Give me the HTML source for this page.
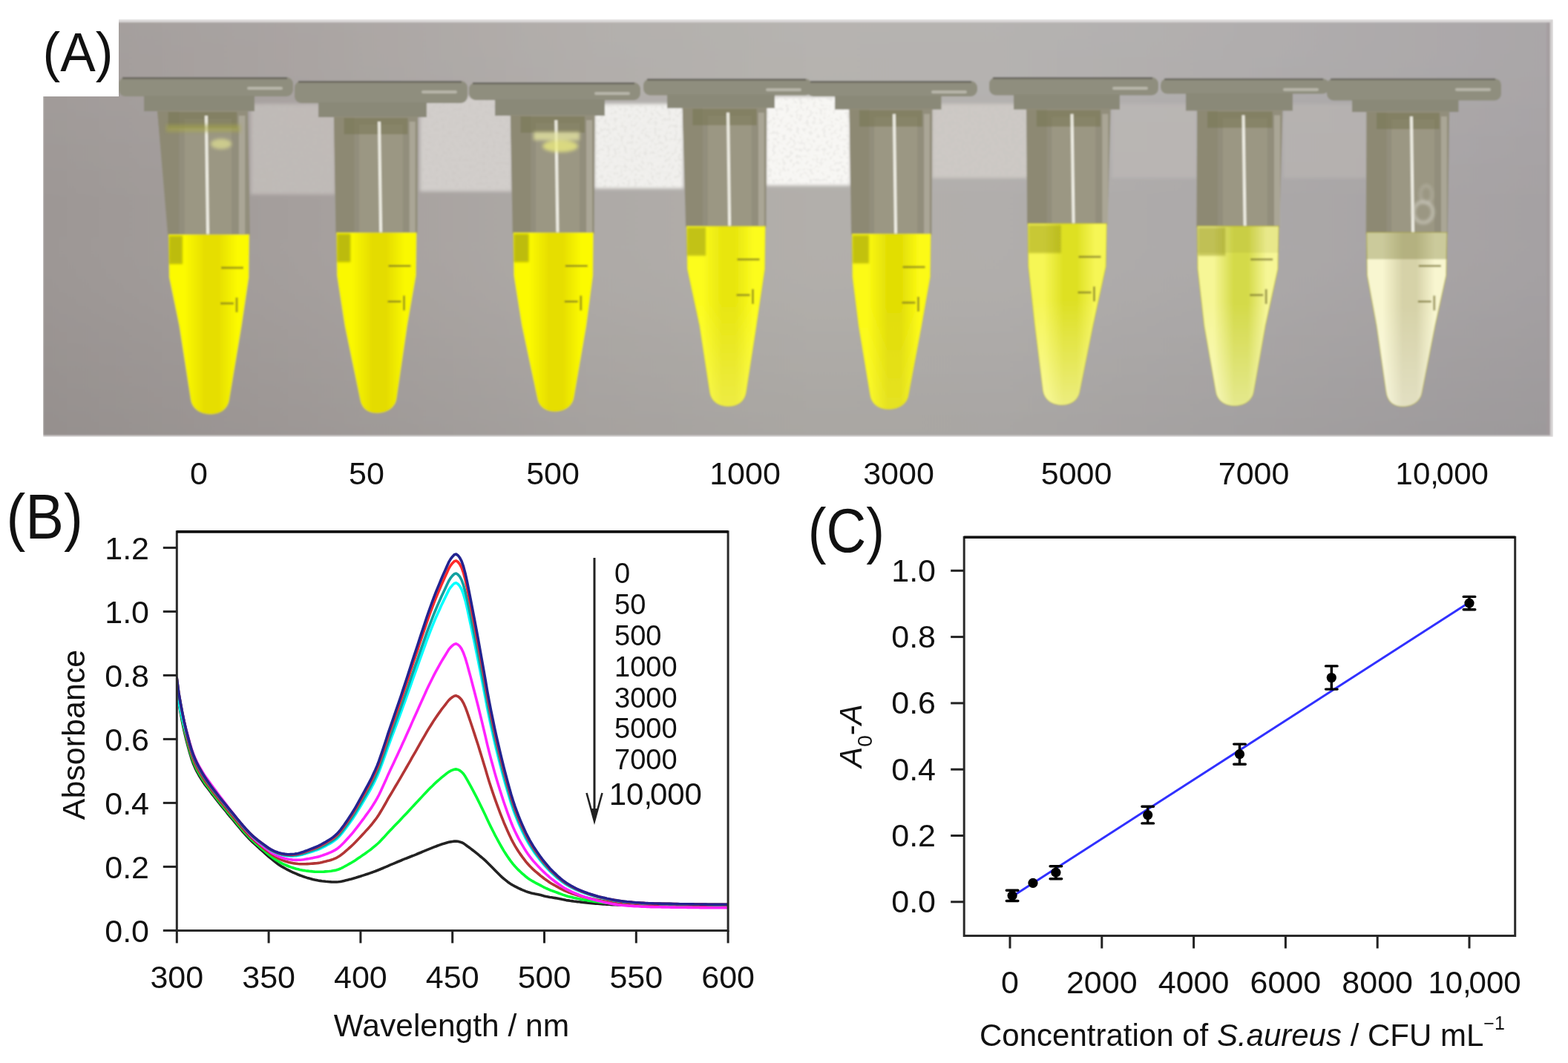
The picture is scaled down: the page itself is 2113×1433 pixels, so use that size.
<!DOCTYPE html><html><head><meta charset="utf-8"><title>Figure</title><style>html,body{margin:0;padding:0;background:#fff;}body{width:2113px;height:1433px;overflow:hidden;}svg{display:block}text{font-family:"Liberation Sans", Arial, Helvetica, sans-serif;fill:#111;}</style></head><body>
<svg width="2113" height="1433" viewBox="0 0 2113 1433">
<rect x="0" y="0" width="2113" height="1433" fill="#fff"/>
<defs><filter id="pblur" x="0" y="0" width="100%" height="100%"><feGaussianBlur stdDeviation="1.1"/></filter></defs>
<g filter="url(#pblur)">
<defs><linearGradient id="bgh" x1="0" y1="0" x2="1" y2="0"><stop offset="0" stop-color="rgb(157,151,149)"/><stop offset="0.168" stop-color="rgb(165,159,157)"/><stop offset="0.365" stop-color="rgb(174,170,167)"/><stop offset="0.513" stop-color="rgb(178,175,171)"/><stop offset="0.636" stop-color="rgb(177,174,172)"/><stop offset="0.784" stop-color="rgb(172,169,169)"/><stop offset="1" stop-color="rgb(165,161,163)"/></linearGradient><linearGradient id="bgv" x1="0" y1="0" x2="0" y2="1"><stop offset="0" stop-color="#fff" stop-opacity="0.06"/><stop offset="0.13" stop-color="#fff" stop-opacity="0.05"/><stop offset="0.45" stop-color="#fff" stop-opacity="0"/><stop offset="0.75" stop-color="#000" stop-opacity="0.02"/><stop offset="1" stop-color="#000" stop-opacity="0.05"/></linearGradient><filter id="blur1" x="-10%" y="-10%" width="120%" height="120%"><feGaussianBlur stdDeviation="1"/></filter><filter id="blur2" x="-10%" y="-10%" width="120%" height="120%"><feGaussianBlur stdDeviation="2"/></filter><filter id="blur3" x="-10%" y="-10%" width="120%" height="120%"><feGaussianBlur stdDeviation="3"/></filter><filter id="speck" x="0" y="0" width="100%" height="100%"><feTurbulence type="fractalNoise" baseFrequency="0.22" numOctaves="2" seed="7"/><feColorMatrix type="matrix" values="0 0 0 0 0.55  0 0 0 0 0.54  0 0 0 0 0.52  0 0 0 -5 2.45"/><feComposite in2="SourceGraphic" operator="in"/></filter></defs>
<rect x="58" y="30" width="2031" height="557" fill="url(#bgh)"/>
<rect x="58" y="30" width="2031" height="557" fill="url(#bgv)"/>
<rect x="58" y="26" width="2035" height="4" fill="#dcd9d9"/>
<rect x="2089" y="26" width="4" height="563" fill="#d6d3d3"/>
<rect x="58" y="587" width="2031" height="2" fill="#d6d3d3"/>
<rect x="2084" y="30" width="5" height="557" fill="#a29a9b" opacity="0.6"/>
<g filter="url(#blur2)">
<rect x="338" y="140" width="114" height="122" fill="#c2bdb9" opacity="0.9"/>
<rect x="566" y="130" width="124" height="128" fill="#d2cecb" opacity="1.0"/>
<rect x="801" y="140" width="120" height="114" fill="#f1f0ed" opacity="1.0"/>
<rect x="1032" y="130" width="114" height="120" fill="#f8f7f4" opacity="1.0"/>
<rect x="1256" y="140" width="129" height="100" fill="#cdc9c5" opacity="1.0"/>
<rect x="1498" y="140" width="115" height="100" fill="#bcb8b5" opacity="0.8"/>
<rect x="1729" y="140" width="113" height="100" fill="#b9b5b2" opacity="0.7"/>
</g>
<rect x="340" y="142" width="110" height="118" fill="#000" filter="url(#speck)" opacity="0.22"/>
<rect x="568" y="132" width="120" height="124" fill="#000" filter="url(#speck)" opacity="0.22"/>
<rect x="803" y="142" width="116" height="110" fill="#000" filter="url(#speck)" opacity="0.22"/>
<rect x="1034" y="132" width="110" height="116" fill="#000" filter="url(#speck)" opacity="0.22"/>
<rect x="1258" y="142" width="125" height="96" fill="#000" filter="url(#speck)" opacity="0.22"/>
<defs><linearGradient id="lq0" x1="0" y1="0" x2="1" y2="0"><stop offset="0" stop-color="rgb(252,250,0)"/><stop offset="0.2" stop-color="rgb(252,250,0)"/><stop offset="0.45" stop-color="rgb(230,222,0)"/><stop offset="0.62" stop-color="rgb(230,222,0)"/><stop offset="0.85" stop-color="rgb(252,250,0)"/><stop offset="1" stop-color="rgb(252,250,0)"/></linearGradient><linearGradient id="lq1" x1="0" y1="0" x2="1" y2="0"><stop offset="0" stop-color="rgb(250,248,0)"/><stop offset="0.2" stop-color="rgb(250,248,0)"/><stop offset="0.45" stop-color="rgb(228,220,0)"/><stop offset="0.62" stop-color="rgb(228,220,0)"/><stop offset="0.85" stop-color="rgb(250,248,0)"/><stop offset="1" stop-color="rgb(250,248,0)"/></linearGradient><linearGradient id="lq2" x1="0" y1="0" x2="1" y2="0"><stop offset="0" stop-color="rgb(252,250,0)"/><stop offset="0.2" stop-color="rgb(252,250,0)"/><stop offset="0.45" stop-color="rgb(230,222,0)"/><stop offset="0.62" stop-color="rgb(230,222,0)"/><stop offset="0.85" stop-color="rgb(252,250,0)"/><stop offset="1" stop-color="rgb(252,250,0)"/></linearGradient><linearGradient id="lq3" x1="0" y1="0" x2="1" y2="0"><stop offset="0" stop-color="rgb(252,252,30)"/><stop offset="0.2" stop-color="rgb(252,252,30)"/><stop offset="0.45" stop-color="rgb(232,230,15)"/><stop offset="0.62" stop-color="rgb(232,230,15)"/><stop offset="0.85" stop-color="rgb(252,252,30)"/><stop offset="1" stop-color="rgb(252,252,30)"/></linearGradient><linearGradient id="lq4" x1="0" y1="0" x2="1" y2="0"><stop offset="0" stop-color="rgb(252,250,20)"/><stop offset="0.2" stop-color="rgb(252,250,20)"/><stop offset="0.45" stop-color="rgb(226,222,5)"/><stop offset="0.62" stop-color="rgb(226,222,5)"/><stop offset="0.85" stop-color="rgb(252,250,20)"/><stop offset="1" stop-color="rgb(252,250,20)"/></linearGradient><linearGradient id="lq5" x1="0" y1="0" x2="1" y2="0"><stop offset="0" stop-color="rgb(246,246,85)"/><stop offset="0.2" stop-color="rgb(246,246,85)"/><stop offset="0.45" stop-color="rgb(222,224,35)"/><stop offset="0.62" stop-color="rgb(222,224,35)"/><stop offset="0.85" stop-color="rgb(246,246,85)"/><stop offset="1" stop-color="rgb(246,246,85)"/></linearGradient><linearGradient id="lq6" x1="0" y1="0" x2="1" y2="0"><stop offset="0" stop-color="rgb(246,246,150)"/><stop offset="0.2" stop-color="rgb(246,246,150)"/><stop offset="0.45" stop-color="rgb(212,218,72)"/><stop offset="0.62" stop-color="rgb(212,218,72)"/><stop offset="0.85" stop-color="rgb(246,246,150)"/><stop offset="1" stop-color="rgb(246,246,150)"/></linearGradient><linearGradient id="lq7" x1="0" y1="0" x2="1" y2="0"><stop offset="0" stop-color="rgb(248,246,208)"/><stop offset="0.2" stop-color="rgb(248,246,208)"/><stop offset="0.45" stop-color="rgb(214,210,168)"/><stop offset="0.62" stop-color="rgb(214,210,168)"/><stop offset="0.85" stop-color="rgb(248,246,208)"/><stop offset="1" stop-color="rgb(248,246,208)"/></linearGradient><linearGradient id="lv0" gradientUnits="userSpaceOnUse" x1="0" y1="316" x2="0" y2="558.6"><stop offset="0" stop-color="#fff" stop-opacity="0"/><stop offset="0.42" stop-color="#fff" stop-opacity="0"/><stop offset="1" stop-color="#fff" stop-opacity="0"/></linearGradient><linearGradient id="lv1" gradientUnits="userSpaceOnUse" x1="0" y1="313.4" x2="0" y2="557"><stop offset="0" stop-color="#fff" stop-opacity="0"/><stop offset="0.42" stop-color="#fff" stop-opacity="0"/><stop offset="1" stop-color="#fff" stop-opacity="0"/></linearGradient><linearGradient id="lv2" gradientUnits="userSpaceOnUse" x1="0" y1="313.4" x2="0" y2="555"><stop offset="0" stop-color="#fff" stop-opacity="0"/><stop offset="0.42" stop-color="#fff" stop-opacity="0"/><stop offset="1" stop-color="#fff" stop-opacity="0"/></linearGradient><linearGradient id="lv3" gradientUnits="userSpaceOnUse" x1="0" y1="304.7" x2="0" y2="548"><stop offset="0" stop-color="#fff" stop-opacity="0"/><stop offset="0.42" stop-color="#fff" stop-opacity="0"/><stop offset="1" stop-color="#fff" stop-opacity="0.22"/></linearGradient><linearGradient id="lv4" gradientUnits="userSpaceOnUse" x1="0" y1="315.1" x2="0" y2="552"><stop offset="0" stop-color="#fff" stop-opacity="0"/><stop offset="0.42" stop-color="#fff" stop-opacity="0"/><stop offset="1" stop-color="#fff" stop-opacity="0.12"/></linearGradient><linearGradient id="lv5" gradientUnits="userSpaceOnUse" x1="0" y1="301.2" x2="0" y2="546"><stop offset="0" stop-color="#fff" stop-opacity="0"/><stop offset="0.42" stop-color="#fff" stop-opacity="0"/><stop offset="1" stop-color="#fff" stop-opacity="0.42"/></linearGradient><linearGradient id="lv6" gradientUnits="userSpaceOnUse" x1="0" y1="304.7" x2="0" y2="547"><stop offset="0" stop-color="#fff" stop-opacity="0"/><stop offset="0.42" stop-color="#fff" stop-opacity="0"/><stop offset="1" stop-color="#fff" stop-opacity="0.38"/></linearGradient><linearGradient id="lv7" gradientUnits="userSpaceOnUse" x1="0" y1="313.4" x2="0" y2="548"><stop offset="0" stop-color="#fff" stop-opacity="0"/><stop offset="0.42" stop-color="#fff" stop-opacity="0"/><stop offset="1" stop-color="#fff" stop-opacity="0.3"/></linearGradient></defs>
<rect x="160" y="104" width="235" height="26" rx="9" fill="#8f8e7e"/>
<rect x="333" y="117" width="48" height="4" rx="2" fill="#c8c6bc" opacity="0.7"/>
<path d="M165,105.2 H387" stroke="#5e5d55" stroke-width="2.4" opacity="0.85"/>
<rect x="194" y="129" width="149" height="21" fill="#8a8978"/>
<path d="M212,149 L334,149 L337,318 L226,318 Z" fill="#928e7b"/>
<path d="M212,150 L241.3,150 L241.3,317 L227.0,317 Z" fill="#8c8872" opacity="0.8"/>
<rect x="248.6" y="160" width="63.4" height="156.0" fill="#9c9884" opacity="0.9"/>
<rect x="321.8" y="156" width="8.5" height="160.0" fill="#b0ac9e" opacity="0.8"/>
<rect x="226.6" y="151" width="92.7" height="22" fill="#767450" opacity="0.55"/>
<path d="M277.9,156 L280.9,376" stroke="#fbfaf2" stroke-width="4" opacity="0.85"/>
<path d="M227.0,316.0 L336.0,316.0 L335.4,374.0 L325.7,439 L309.1,538.6 C307.1,552.6 295.7,558.6 283.7,558.6 C271.7,558.6 258.9,552.6 256.9,538.6 L241.4,439 L227.9,374.0 Z" fill="url(#lq0)" stroke="#b4ae2c" stroke-width="1.4" stroke-opacity="0.55"/>
<rect x="228.0" y="318.0" width="18" height="38" fill="#8a8a10" opacity="0.55" filter="url(#blur1)"/>
<path d="M298.0,361.0 h30 M297.0,409.0 h18 m4,-8 v20" stroke="#6a6420" stroke-width="3" opacity="0.6"/>
<rect x="397" y="109" width="233" height="30" rx="9" fill="#8f8e7e"/>
<rect x="568" y="122" width="48" height="4" rx="2" fill="#c8c6bc" opacity="0.7"/>
<path d="M402,110.2 H622" stroke="#5e5d55" stroke-width="2.4" opacity="0.85"/>
<rect x="429" y="138" width="146" height="20" fill="#8a8978"/>
<path d="M450,157 L563,157 L562.5,315.4 L452.3,315.4 Z" fill="#928e7b"/>
<path d="M450,158 L477.1,158 L477.1,314.4 L453.3,314.4 Z" fill="#8c8872" opacity="0.8"/>
<rect x="483.9" y="168" width="58.8" height="145.4" fill="#9c9884" opacity="0.9"/>
<rect x="551.7" y="164" width="7.9" height="149.4" fill="#b0ac9e" opacity="0.8"/>
<rect x="463.6" y="159" width="85.9" height="22" fill="#767450" opacity="0.55"/>
<path d="M511.0,164 L514.0,373.4" stroke="#fbfaf2" stroke-width="4" opacity="0.85"/>
<path d="M453.3,313.4 L561.5,313.4 L560.7,371.4 L548.9,439 L534.6,537.0 C532.6,551.0 520.0,557.0 508.0,557.0 C496.0,557.0 486.9,551.0 484.9,537.0 L464.5,439 L454.0,371.4 Z" fill="url(#lq1)" stroke="#b4ae2c" stroke-width="1.4" stroke-opacity="0.55"/>
<rect x="454.3" y="315.4" width="18" height="38" fill="#8a8a10" opacity="0.55" filter="url(#blur1)"/>
<path d="M523.5,358.4 h30 M522.5,406.4 h18 m4,-8 v20" stroke="#6a6420" stroke-width="3" opacity="0.6"/>
<rect x="632" y="111" width="231" height="24" rx="9" fill="#8f8e7e"/>
<rect x="801" y="124" width="48" height="4" rx="2" fill="#c8c6bc" opacity="0.7"/>
<path d="M637,112.2 H855" stroke="#5e5d55" stroke-width="2.4" opacity="0.85"/>
<rect x="667" y="134" width="148" height="22" fill="#8a8978"/>
<path d="M688,155 L801.5,155 L800.8,315.4 L690.6,315.4 Z" fill="#928e7b"/>
<path d="M688,156 L715.2,156 L715.2,314.4 L691.6,314.4 Z" fill="#8c8872" opacity="0.8"/>
<rect x="722.0" y="166" width="59.0" height="147.4" fill="#9c9884" opacity="0.9"/>
<rect x="790.1" y="162" width="7.9" height="151.4" fill="#b0ac9e" opacity="0.8"/>
<rect x="701.6" y="157" width="86.3" height="22" fill="#767450" opacity="0.55"/>
<path d="M749.3,162 L752.3,373.4" stroke="#fbfaf2" stroke-width="4" opacity="0.85"/>
<path d="M691.6,313.4 L799.8,313.4 L799.2,371.4 L790.3,439 L773.7,535.0 C771.7,549.0 759.6,555.0 747.6,555.0 C735.6,555.0 725.6,549.0 723.6,535.0 L703.1,439 L692.3,371.4 Z" fill="url(#lq2)" stroke="#b4ae2c" stroke-width="1.4" stroke-opacity="0.55"/>
<rect x="692.6" y="315.4" width="20" height="38" fill="#8a8a10" opacity="0.55" filter="url(#blur1)"/>
<path d="M761.8,358.4 h30 M760.8,406.4 h18 m4,-8 v20" stroke="#6a6420" stroke-width="3" opacity="0.6"/>
<rect x="867" y="106" width="227" height="22.400000000000006" rx="9" fill="#8f8e7e"/>
<rect x="1032" y="119" width="48" height="4" rx="2" fill="#c8c6bc" opacity="0.7"/>
<path d="M872,107.2 H1086" stroke="#5e5d55" stroke-width="2.4" opacity="0.85"/>
<rect x="899" y="127.4" width="145" height="18.400000000000006" fill="#8a8978"/>
<path d="M919.8,144.8 L1033.2,144.8 L1032.5,306.7 L924,306.7 Z" fill="#928e7b"/>
<path d="M919.8,145.8 L947.0,145.8 L947.0,305.7 L925.0,305.7 Z" fill="#8c8872" opacity="0.8"/>
<rect x="953.8" y="155.8" width="59.0" height="148.9" fill="#9c9884" opacity="0.9"/>
<rect x="1021.9" y="151.8" width="7.9" height="152.9" fill="#b0ac9e" opacity="0.8"/>
<rect x="933.4" y="146.8" width="86.2" height="22" fill="#767450" opacity="0.55"/>
<path d="M981.0,151.8 L984.0,364.7" stroke="#fbfaf2" stroke-width="4" opacity="0.85"/>
<path d="M925.0,304.7 L1031.5,304.7 L1030.8,362.7 L1019.5,439 L1005.7,528.0 C1003.7,542.0 993.5,548.0 981.5,548.0 C969.5,548.0 958.2,542.0 956.2,528.0 L942.5,439 L926.0,362.7 Z" fill="url(#lq3)" stroke="#b4ae2c" stroke-width="1.4" stroke-opacity="0.55"/>
<path d="M925.0,304.7 L1031.5,304.7 L1030.8,362.7 L1019.5,439 L1005.7,528.0 C1003.7,542.0 993.5,548.0 981.5,548.0 C969.5,548.0 958.2,542.0 956.2,528.0 L942.5,439 L926.0,362.7 Z" fill="url(#lv3)"/>
<rect x="926.0" y="306.7" width="25" height="38" fill="#8a8a10" opacity="0.5" filter="url(#blur1)"/>
<path d="M993.5,349.7 h30 M992.5,397.7 h18 m4,-8 v20" stroke="#6a6420" stroke-width="3" opacity="0.6"/>
<rect x="1087" y="109" width="230" height="21" rx="9" fill="#8f8e7e"/>
<rect x="1255" y="122" width="48" height="4" rx="2" fill="#c8c6bc" opacity="0.7"/>
<path d="M1092,110.2 H1309" stroke="#5e5d55" stroke-width="2.4" opacity="0.85"/>
<rect x="1125" y="129" width="143.5" height="18.599999999999994" fill="#8a8978"/>
<path d="M1144.6,146.6 L1256.3,146.6 L1255.5,317.1 L1147,317.1 Z" fill="#928e7b"/>
<path d="M1144.6,147.6 L1171.4,147.6 L1171.4,316.1 L1148.0,316.1 Z" fill="#8c8872" opacity="0.8"/>
<rect x="1178.1" y="157.6" width="58.1" height="157.5" fill="#9c9884" opacity="0.9"/>
<rect x="1245.1" y="153.6" width="7.8" height="161.5" fill="#b0ac9e" opacity="0.8"/>
<rect x="1158.0" y="148.6" width="84.9" height="22" fill="#767450" opacity="0.55"/>
<path d="M1204.9,153.6 L1207.9,375.1" stroke="#fbfaf2" stroke-width="4" opacity="0.85"/>
<path d="M1148.0,315.1 L1254.5,315.1 L1253.8,373.1 L1242.1,439 L1224.6,532.0 C1222.6,546.0 1209.6,552.0 1197.6,552.0 C1185.6,552.0 1174.3,546.0 1172.3,532.0 L1156.8,439 L1148.5,373.1 Z" fill="url(#lq4)" stroke="#b4ae2c" stroke-width="1.4" stroke-opacity="0.55"/>
<path d="M1148.0,315.1 L1254.5,315.1 L1253.8,373.1 L1242.1,439 L1224.6,532.0 C1222.6,546.0 1209.6,552.0 1197.6,552.0 C1185.6,552.0 1174.3,546.0 1172.3,532.0 L1156.8,439 L1148.5,373.1 Z" fill="url(#lv4)"/>
<rect x="1149.0" y="317.1" width="22" height="38" fill="#8a8a10" opacity="0.5" filter="url(#blur1)"/>
<path d="M1216.5,360.1 h30 M1215.5,408.1 h18 m4,-8 v20" stroke="#6a6420" stroke-width="3" opacity="0.6"/>
<rect x="1333" y="104" width="228" height="24.400000000000006" rx="9" fill="#8f8e7e"/>
<rect x="1499" y="117" width="48" height="4" rx="2" fill="#c8c6bc" opacity="0.7"/>
<path d="M1338,105.2 H1553" stroke="#5e5d55" stroke-width="2.4" opacity="0.85"/>
<rect x="1366" y="127.4" width="143" height="20.19999999999999" fill="#8a8978"/>
<path d="M1383.3,146.6 L1496.7,146.6 L1492.5,303.2 L1384,303.2 Z" fill="#928e7b"/>
<path d="M1383.3,147.6 L1410.5,147.6 L1410.5,302.2 L1385.0,302.2 Z" fill="#8c8872" opacity="0.8"/>
<rect x="1417.3" y="157.6" width="59.0" height="143.6" fill="#9c9884" opacity="0.9"/>
<rect x="1485.4" y="153.6" width="7.9" height="147.6" fill="#b0ac9e" opacity="0.8"/>
<rect x="1396.9" y="148.6" width="86.2" height="22" fill="#767450" opacity="0.55"/>
<path d="M1444.5,153.6 L1447.5,361.2" stroke="#fbfaf2" stroke-width="4" opacity="0.85"/>
<path d="M1385.0,301.2 L1491.5,301.2 L1490.4,359.2 L1473.0,439 L1455.3,526.0 C1453.3,540.0 1443.0,546.0 1431.0,546.0 C1419.0,546.0 1407.4,540.0 1405.4,526.0 L1394.5,439 L1385.6,359.2 Z" fill="url(#lq5)" stroke="#b4ae2c" stroke-width="1.4" stroke-opacity="0.55"/>
<path d="M1385.0,301.2 L1491.5,301.2 L1490.4,359.2 L1473.0,439 L1455.3,526.0 C1453.3,540.0 1443.0,546.0 1431.0,546.0 C1419.0,546.0 1407.4,540.0 1405.4,526.0 L1394.5,439 L1385.6,359.2 Z" fill="url(#lv5)"/>
<rect x="1386.0" y="303.2" width="44" height="38" fill="#8a8a10" opacity="0.42" filter="url(#blur1)"/>
<path d="M1453.5,346.2 h30 M1452.5,394.2 h18 m4,-8 v20" stroke="#6a6420" stroke-width="3" opacity="0.6"/>
<rect x="1564" y="105.7" width="227" height="20.89999999999999" rx="9" fill="#8f8e7e"/>
<rect x="1729" y="118.7" width="48" height="4" rx="2" fill="#c8c6bc" opacity="0.7"/>
<path d="M1569,106.9 H1783" stroke="#5e5d55" stroke-width="2.4" opacity="0.85"/>
<rect x="1598" y="125.6" width="144" height="23.700000000000017" fill="#8a8978"/>
<path d="M1613.3,148.3 L1728.5,148.3 L1724.2,306.7 L1612.3,306.7 Z" fill="#928e7b"/>
<path d="M1613.3,149.3 L1640.9,149.3 L1640.9,305.7 L1613.3,305.7 Z" fill="#8c8872" opacity="0.8"/>
<rect x="1647.9" y="159.3" width="59.9" height="145.4" fill="#9c9884" opacity="0.9"/>
<rect x="1717.0" y="155.3" width="8.1" height="149.4" fill="#b0ac9e" opacity="0.8"/>
<rect x="1627.1" y="150.3" width="87.6" height="22" fill="#767450" opacity="0.55"/>
<path d="M1675.5,155.3 L1678.5,364.7" stroke="#fbfaf2" stroke-width="4" opacity="0.85"/>
<path d="M1613.3,304.7 L1723.2,304.7 L1722.1,362.7 L1705.3,439 L1689.6,527.0 C1687.6,541.0 1675.5,547.0 1663.5,547.0 C1651.5,547.0 1640.3,541.0 1638.3,527.0 L1622.7,439 L1613.9,362.7 Z" fill="url(#lq6)" stroke="#b4ae2c" stroke-width="1.4" stroke-opacity="0.55"/>
<path d="M1613.3,304.7 L1723.2,304.7 L1722.1,362.7 L1705.3,439 L1689.6,527.0 C1687.6,541.0 1675.5,547.0 1663.5,547.0 C1651.5,547.0 1640.3,541.0 1638.3,527.0 L1622.7,439 L1613.9,362.7 Z" fill="url(#lv6)"/>
<rect x="1613.3" y="304.7" width="109.9" height="36" fill="#6e6e2a" opacity="0.1"/>
<rect x="1614.3" y="306.7" width="37" height="38" fill="#8a8a10" opacity="0.42" filter="url(#blur1)"/>
<path d="M1685.2,349.7 h30 M1684.2,397.7 h18 m4,-8 v20" stroke="#6a6420" stroke-width="3" opacity="0.6"/>
<rect x="1788" y="105.7" width="235" height="29.700000000000003" rx="9" fill="#8f8e7e"/>
<rect x="1961" y="118.7" width="48" height="4" rx="2" fill="#c8c6bc" opacity="0.7"/>
<path d="M1793,106.9 H2015" stroke="#5e5d55" stroke-width="2.4" opacity="0.85"/>
<rect x="1822" y="134.4" width="143.5" height="16.599999999999994" fill="#8a8978"/>
<path d="M1841.6,150 L1953.2,150 L1950.8,315.4 L1840.6,315.4 Z" fill="#928e7b"/>
<path d="M1841.6,151 L1868.4,151 L1868.4,314.4 L1841.6,314.4 Z" fill="#8c8872" opacity="0.8"/>
<rect x="1875.1" y="161" width="58.0" height="152.4" fill="#9c9884" opacity="0.9"/>
<rect x="1942.0" y="157" width="7.8" height="156.4" fill="#b0ac9e" opacity="0.8"/>
<rect x="1855.0" y="152" width="84.8" height="22" fill="#767450" opacity="0.55"/>
<path d="M1901.9,157 L1904.9,373.4" stroke="#fbfaf2" stroke-width="4" opacity="0.85"/>
<path d="M1841.6,313.4 L1949.8,313.4 L1948.8,371.4 L1933.9,439 L1916.3,528.0 C1914.3,542.0 1902.3,548.0 1890.3,548.0 C1878.3,548.0 1869.9,542.0 1867.9,528.0 L1855.0,439 L1842.4,371.4 Z" fill="url(#lq7)" stroke="#b4ae2c" stroke-width="1.4" stroke-opacity="0.55"/>
<path d="M1841.6,313.4 L1949.8,313.4 L1948.8,371.4 L1933.9,439 L1916.3,528.0 C1914.3,542.0 1902.3,548.0 1890.3,548.0 C1878.3,548.0 1869.9,542.0 1867.9,528.0 L1855.0,439 L1842.4,371.4 Z" fill="url(#lv7)"/>
<rect x="1841.6" y="313.4" width="108.2" height="36" fill="#6e6e2a" opacity="0.32"/>
<path d="M1911.8,358.4 h30 M1910.8,406.4 h18 m4,-8 v20" stroke="#6a6420" stroke-width="3" opacity="0.6"/>
<g filter="url(#blur2)">
<rect x="224" y="168" width="100" height="10" fill="#a8a848" opacity="0.55"/>
<ellipse cx="298" cy="194" rx="14" ry="7" fill="#d8d890" opacity="0.8"/>
<rect x="719" y="178" width="62" height="11" fill="#e6e6a0" opacity="0.75"/>
<ellipse cx="755" cy="197" rx="24" ry="8" fill="#eaea80" opacity="0.8"/>
<ellipse cx="1918" cy="286" rx="13" ry="14" fill="none" stroke="#e0ded6" stroke-width="3" opacity="0.8"/>
<ellipse cx="1922" cy="262" rx="8" ry="12" fill="none" stroke="#d6d4cc" stroke-width="2" opacity="0.6"/>
</g>
</g>
<rect x="0" y="0" width="160" height="130" fill="#fff"/>
<rect x="0" y="0" width="2113" height="26" fill="#fff"/>
<text transform="translate(57.5,96) scale(0.95,1)" font-size="75" fill="#000">(A)</text>
<text x="268" y="652.5" font-size="43" text-anchor="middle" fill="#222">0</text>
<text x="494" y="652.5" font-size="43" text-anchor="middle" fill="#222">50</text>
<text x="745" y="652.5" font-size="43" text-anchor="middle" fill="#222">500</text>
<text x="1004" y="652.5" font-size="43" text-anchor="middle" fill="#222">1000</text>
<text x="1211" y="652.5" font-size="43" text-anchor="middle" fill="#222">3000</text>
<text x="1450.6" y="652.5" font-size="43" text-anchor="middle" fill="#222">5000</text>
<text x="1689.6" y="652.5" font-size="43" text-anchor="middle" fill="#222">7000</text>
<text x="1880.6" y="652.5" font-size="42" fill="#222">10<tspan>,</tspan><tspan dx="-3.2">000</tspan></text>
<text transform="translate(8.5,726) scale(0.913,1)" font-size="85" fill="#000">(B)</text>
<clipPath id="cb"><rect x="238.3" y="716.7" width="742.8" height="537.7"/></clipPath>
<g clip-path="url(#cb)" fill="none" stroke-width="3.6" stroke-linejoin="round" stroke-linecap="round">
<polyline points="238.3,927.6 240.8,947.0 243.3,960.9 245.7,973.6 248.2,985.7 250.7,996.3 253.2,1005.9 255.6,1014.6 258.1,1022.8 260.6,1029.8 263.1,1035.6 265.5,1040.5 268.0,1045.0 270.5,1049.1 273.0,1053.0 275.4,1056.6 277.9,1060.0 280.4,1063.2 282.9,1066.5 285.3,1069.8 287.8,1073.0 290.3,1076.2 292.8,1079.4 295.2,1082.5 297.7,1085.6 300.2,1088.7 302.7,1091.7 305.2,1094.7 307.6,1097.8 310.1,1100.7 312.6,1103.7 315.1,1106.7 317.5,1109.7 320.0,1112.7 322.5,1115.6 325.0,1118.6 327.4,1121.5 329.9,1124.3 332.4,1127.1 334.9,1129.7 337.3,1132.2 339.8,1134.6 342.3,1137.0 344.8,1139.3 347.2,1141.5 349.7,1143.8 352.2,1146.0 354.7,1148.2 357.1,1150.4 359.6,1152.6 362.1,1154.8 364.6,1156.9 367.1,1158.9 369.5,1160.9 372.0,1162.8 374.5,1164.7 377.0,1166.4 379.4,1168.0 381.9,1169.4 384.4,1170.8 386.9,1172.2 389.3,1173.4 391.8,1174.7 394.3,1175.8 396.8,1176.9 399.2,1177.9 401.7,1179.0 404.2,1180.0 406.7,1180.9 409.1,1181.8 411.6,1182.6 414.1,1183.4 416.6,1184.1 419.0,1184.7 421.5,1185.4 424.0,1186.0 426.5,1186.5 429.0,1187.0 431.4,1187.4 433.9,1187.8 436.4,1188.0 438.9,1188.3 441.3,1188.5 443.8,1188.7 446.3,1188.9 448.8,1189.0 451.2,1189.0 453.7,1189.0 456.2,1188.8 458.7,1188.5 461.1,1188.0 463.6,1187.4 466.1,1186.8 468.6,1186.2 471.0,1185.6 473.5,1185.0 476.0,1184.3 478.5,1183.6 480.9,1182.8 483.4,1182.0 485.9,1181.2 488.4,1180.4 490.9,1179.6 493.3,1178.8 495.8,1178.0 498.3,1177.1 500.8,1176.3 503.2,1175.4 505.7,1174.5 508.2,1173.5 510.7,1172.5 513.1,1171.5 515.6,1170.5 518.1,1169.4 520.6,1168.4 523.0,1167.3 525.5,1166.2 528.0,1165.2 530.5,1164.2 532.9,1163.1 535.4,1162.0 537.9,1161.0 540.4,1160.0 542.8,1158.9 545.3,1157.9 547.8,1157.0 550.3,1156.0 552.8,1155.0 555.2,1154.0 557.7,1153.1 560.2,1152.1 562.7,1151.0 565.1,1150.0 567.6,1149.0 570.1,1147.9 572.6,1146.9 575.0,1145.9 577.5,1144.9 580.0,1143.9 582.5,1142.9 584.9,1141.9 587.4,1141.0 589.9,1140.0 592.4,1139.1 594.8,1138.2 597.3,1137.4 599.8,1136.7 602.3,1136.0 604.7,1135.3 607.2,1134.9 609.7,1134.5 612.2,1134.1 614.7,1134.0 617.1,1134.3 619.6,1134.9 622.1,1135.7 624.6,1136.9 627.0,1138.6 629.5,1140.5 632.0,1142.3 634.5,1144.1 636.9,1146.0 639.4,1147.9 641.9,1149.9 644.4,1151.9 646.8,1154.0 649.3,1156.0 651.8,1158.2 654.3,1160.4 656.7,1162.7 659.2,1165.2 661.7,1167.7 664.2,1170.2 666.6,1172.7 669.1,1175.2 671.6,1177.7 674.1,1180.2 676.6,1182.6 679.0,1184.7 681.5,1186.7 684.0,1188.7 686.5,1190.4 688.9,1192.1 691.4,1193.5 693.9,1194.9 696.4,1196.2 698.8,1197.4 701.3,1198.5 703.8,1199.6 706.3,1200.6 708.7,1201.6 711.2,1202.5 713.7,1203.2 716.2,1203.9 718.6,1204.4 721.1,1205.0 723.6,1205.5 726.1,1206.0 728.5,1206.6 731.0,1207.2 733.5,1207.9 736.0,1208.5 738.5,1209.0 740.9,1209.5 743.4,1209.8 745.9,1210.2 748.4,1210.6 750.8,1211.0 753.3,1211.5 755.8,1212.0 758.3,1212.6 760.7,1213.1 763.2,1213.6 765.7,1213.9 768.2,1214.3 770.6,1214.6 773.1,1215.0 775.6,1215.3 778.1,1215.6 780.5,1215.8 783.0,1216.1 785.5,1216.4 788.0,1216.6 790.4,1216.9 792.9,1217.2 795.4,1217.4 797.9,1217.7 800.4,1217.9 802.8,1218.1 805.3,1218.3 807.8,1218.5 810.3,1218.7 812.7,1218.9 815.2,1219.0 817.7,1219.2 820.2,1219.3 822.6,1219.5 825.1,1219.6 827.6,1219.7 830.1,1219.8 832.5,1219.9 835.0,1220.0 837.5,1220.1 840.0,1220.1 842.4,1220.2 844.9,1220.2 847.4,1220.3 849.9,1220.3 852.3,1220.4 854.8,1220.4 857.3,1220.4 859.8,1220.5 862.3,1220.5 864.7,1220.5 867.2,1220.5 869.7,1220.6 872.2,1220.6 874.6,1220.6 877.1,1220.6 879.6,1220.7 882.1,1220.7 884.5,1220.7 887.0,1220.7 889.5,1220.7 892.0,1220.8 894.4,1220.8 896.9,1220.8 899.4,1220.8 901.9,1220.8 904.3,1220.8 906.8,1220.9 909.3,1220.9 911.8,1220.9 914.2,1220.9 916.7,1220.9 919.2,1220.9 921.7,1221.0 924.2,1221.0 926.6,1221.0 929.1,1221.0 931.6,1221.0 934.1,1221.0 936.5,1221.1 939.0,1221.1 941.5,1221.1 944.0,1221.1 946.4,1221.1 948.9,1221.1 951.4,1221.1 953.9,1221.2 956.3,1221.2 958.8,1221.2 961.3,1221.2 963.8,1221.2 966.2,1221.2 968.7,1221.2 971.2,1221.2 973.7,1221.3 976.1,1221.3 978.6,1221.3 981.1,1221.3" stroke="#222222"/>
<polyline points="238.3,924.2 240.8,943.6 243.3,957.6 245.7,970.3 248.2,982.4 250.7,993.1 253.2,1002.7 255.6,1011.5 258.1,1019.7 260.6,1026.9 263.1,1032.6 265.5,1037.7 268.0,1042.2 270.5,1046.4 273.0,1050.4 275.4,1054.1 277.9,1057.6 280.4,1061.0 282.9,1064.3 285.3,1067.6 287.8,1070.9 290.3,1074.1 292.8,1077.3 295.2,1080.4 297.7,1083.5 300.2,1086.5 302.7,1089.6 305.2,1092.6 307.6,1095.6 310.1,1098.6 312.6,1101.6 315.1,1104.5 317.5,1107.5 320.0,1110.5 322.5,1113.5 325.0,1116.5 327.4,1119.4 329.9,1122.2 332.4,1124.9 334.9,1127.6 337.3,1130.1 339.8,1132.5 342.3,1134.8 344.8,1137.1 347.2,1139.2 349.7,1141.4 352.2,1143.5 354.7,1145.6 357.1,1147.7 359.6,1149.8 362.1,1151.9 364.6,1153.9 367.1,1155.7 369.5,1157.5 372.0,1159.2 374.5,1160.8 377.0,1162.3 379.4,1163.6 381.9,1164.8 384.4,1165.9 386.9,1167.0 389.3,1168.0 391.8,1168.9 394.3,1169.7 396.8,1170.5 399.2,1171.2 401.7,1171.8 404.2,1172.4 406.7,1172.9 409.1,1173.4 411.6,1173.8 414.1,1174.1 416.6,1174.4 419.0,1174.6 421.5,1174.9 424.0,1175.1 426.5,1175.2 429.0,1175.3 431.4,1175.3 433.9,1175.2 436.4,1175.1 438.9,1174.9 441.3,1174.7 443.8,1174.5 446.3,1174.2 448.8,1173.8 451.2,1173.4 453.7,1172.8 456.2,1172.0 458.7,1171.0 461.1,1169.8 463.6,1168.5 466.1,1167.2 468.6,1165.8 471.0,1164.4 473.5,1163.0 476.0,1161.5 478.5,1159.9 480.9,1158.3 483.4,1156.6 485.9,1154.9 488.4,1153.1 490.9,1151.4 493.3,1149.7 495.8,1147.9 498.3,1146.1 500.8,1144.2 503.2,1142.2 505.7,1140.2 508.2,1138.0 510.7,1135.7 513.1,1133.2 515.6,1130.5 518.1,1127.9 520.6,1125.1 523.0,1122.4 525.5,1119.8 528.0,1117.2 530.5,1114.6 532.9,1112.1 535.4,1109.5 537.9,1106.9 540.4,1104.2 542.8,1101.6 545.3,1099.0 547.8,1096.4 550.3,1093.7 552.8,1091.0 555.2,1088.4 557.7,1085.7 560.2,1083.1 562.7,1080.4 565.1,1077.8 567.6,1075.1 570.1,1072.4 572.6,1069.8 575.0,1067.2 577.5,1064.6 580.0,1062.1 582.5,1059.7 584.9,1057.3 587.4,1054.9 589.9,1052.7 592.4,1050.5 594.8,1048.4 597.3,1046.4 599.8,1044.4 602.3,1042.4 604.7,1040.6 607.2,1039.2 609.7,1038.1 612.2,1037.2 614.7,1036.9 617.1,1037.5 619.6,1038.7 622.1,1040.6 624.6,1043.3 627.0,1046.8 629.5,1051.1 632.0,1055.6 634.5,1060.1 636.9,1064.7 639.4,1069.4 641.9,1074.2 644.4,1079.1 646.8,1084.0 649.3,1089.1 651.8,1094.2 654.3,1099.5 656.7,1104.7 659.2,1110.0 661.7,1115.1 664.2,1120.0 666.6,1124.8 669.1,1129.5 671.6,1134.1 674.1,1138.6 676.6,1143.0 679.0,1147.1 681.5,1151.0 684.0,1154.8 686.5,1158.4 688.9,1161.7 691.4,1164.9 693.9,1167.8 696.4,1170.4 698.8,1172.9 701.3,1175.3 703.8,1177.6 706.3,1179.7 708.7,1181.8 711.2,1183.7 713.7,1185.4 716.2,1187.0 718.6,1188.4 721.1,1189.8 723.6,1191.1 726.1,1192.4 728.5,1193.7 731.0,1195.0 733.5,1196.3 736.0,1197.5 738.5,1198.6 740.9,1199.7 743.4,1200.6 745.9,1201.5 748.4,1202.4 750.8,1203.3 753.3,1204.2 755.8,1205.1 758.3,1206.1 760.7,1206.9 763.2,1207.7 765.7,1208.4 768.2,1209.0 770.6,1209.6 773.1,1210.2 775.6,1210.7 778.1,1211.3 780.5,1211.8 783.0,1212.2 785.5,1212.7 788.0,1213.1 790.4,1213.5 792.9,1214.0 795.4,1214.4 797.9,1214.7 800.4,1215.1 802.8,1215.5 805.3,1215.8 807.8,1216.1 810.3,1216.4 812.7,1216.7 815.2,1216.9 817.7,1217.2 820.2,1217.4 822.6,1217.7 825.1,1217.9 827.6,1218.1 830.1,1218.3 832.5,1218.4 835.0,1218.6 837.5,1218.7 840.0,1218.9 842.4,1219.0 844.9,1219.1 847.4,1219.2 849.9,1219.2 852.3,1219.3 854.8,1219.4 857.3,1219.5 859.8,1219.6 862.3,1219.6 864.7,1219.7 867.2,1219.7 869.7,1219.8 872.2,1219.8 874.6,1219.9 877.1,1219.9 879.6,1220.0 882.1,1220.0 884.5,1220.0 887.0,1220.1 889.5,1220.1 892.0,1220.1 894.4,1220.1 896.9,1220.2 899.4,1220.2 901.9,1220.2 904.3,1220.2 906.8,1220.3 909.3,1220.3 911.8,1220.3 914.2,1220.3 916.7,1220.4 919.2,1220.4 921.7,1220.4 924.2,1220.4 926.6,1220.4 929.1,1220.5 931.6,1220.5 934.1,1220.5 936.5,1220.5 939.0,1220.6 941.5,1220.6 944.0,1220.6 946.4,1220.6 948.9,1220.6 951.4,1220.6 953.9,1220.7 956.3,1220.7 958.8,1220.7 961.3,1220.7 963.8,1220.7 966.2,1220.7 968.7,1220.7 971.2,1220.8 973.7,1220.8 976.1,1220.8 978.6,1220.8 981.1,1220.8" stroke="#00ff33"/>
<polyline points="238.3,920.7 240.8,940.2 243.3,954.2 245.7,966.9 248.2,979.1 250.7,989.9 253.2,999.5 255.6,1008.4 258.1,1016.6 260.6,1023.8 263.1,1029.7 265.5,1034.8 268.0,1039.4 270.5,1043.7 273.0,1047.8 275.4,1051.6 277.9,1055.2 280.4,1058.6 282.9,1062.0 285.3,1065.4 287.8,1068.7 290.3,1071.9 292.8,1075.1 295.2,1078.2 297.7,1081.3 300.2,1084.4 302.7,1087.4 305.2,1090.4 307.6,1093.4 310.1,1096.4 312.6,1099.4 315.1,1102.4 317.5,1105.3 320.0,1108.3 322.5,1111.3 325.0,1114.3 327.4,1117.2 329.9,1120.0 332.4,1122.8 334.9,1125.4 337.3,1127.9 339.8,1130.3 342.3,1132.6 344.8,1134.8 347.2,1136.9 349.7,1138.9 352.2,1141.0 354.7,1143.0 357.1,1145.0 359.6,1147.0 362.1,1148.9 364.6,1150.8 367.1,1152.4 369.5,1154.0 372.0,1155.5 374.5,1156.8 377.0,1158.1 379.4,1159.1 381.9,1160.1 384.4,1161.0 386.9,1161.7 389.3,1162.4 391.8,1163.0 394.3,1163.5 396.8,1163.9 399.2,1164.2 401.7,1164.5 404.2,1164.7 406.7,1164.7 409.1,1164.8 411.6,1164.7 414.1,1164.6 416.6,1164.5 419.0,1164.3 421.5,1164.1 424.0,1163.9 426.5,1163.7 429.0,1163.4 431.4,1163.0 433.9,1162.4 436.4,1161.8 438.9,1161.2 441.3,1160.6 443.8,1160.0 446.3,1159.2 448.8,1158.4 451.2,1157.4 453.7,1156.3 456.2,1154.8 458.7,1153.2 461.1,1151.3 463.6,1149.3 466.1,1147.2 468.6,1145.0 471.0,1142.8 473.5,1140.6 476.0,1138.3 478.5,1135.8 480.9,1133.3 483.4,1130.6 485.9,1128.0 488.4,1125.3 490.9,1122.6 493.3,1119.9 495.8,1117.2 498.3,1114.4 500.8,1111.5 503.2,1108.4 505.7,1105.2 508.2,1101.8 510.7,1098.0 513.1,1094.0 515.6,1089.8 518.1,1085.5 520.6,1081.1 523.0,1076.7 525.5,1072.5 528.0,1068.3 530.5,1064.1 532.9,1060.0 535.4,1055.8 537.9,1051.6 540.4,1047.4 542.8,1043.2 545.3,1038.9 547.8,1034.5 550.3,1030.2 552.8,1025.8 555.2,1021.4 557.7,1017.1 560.2,1012.8 562.7,1008.4 565.1,1004.1 567.6,999.7 570.1,995.4 572.6,991.1 575.0,986.9 577.5,982.7 580.0,978.7 582.5,974.7 584.9,970.9 587.4,967.2 589.9,963.6 592.4,960.1 594.8,956.7 597.3,953.5 599.8,950.3 602.3,947.0 604.7,944.0 607.2,941.6 609.7,939.7 612.2,938.3 614.7,937.8 617.1,938.8 619.6,940.7 622.1,943.5 624.6,947.8 627.0,953.2 629.5,959.9 632.0,967.2 634.5,974.5 636.9,981.8 639.4,989.4 641.9,997.1 644.4,1004.8 646.8,1012.6 649.3,1020.7 651.8,1029.0 654.3,1037.3 656.7,1045.6 659.2,1053.7 661.7,1061.4 664.2,1068.8 666.6,1075.9 669.1,1082.9 671.6,1089.7 674.1,1096.3 676.6,1102.6 679.0,1108.7 681.5,1114.5 684.0,1120.2 686.5,1125.7 688.9,1130.8 691.4,1135.6 693.9,1140.1 696.4,1144.2 698.8,1148.0 701.3,1151.6 703.8,1155.1 706.3,1158.4 708.7,1161.6 711.2,1164.5 713.7,1167.3 716.2,1169.8 718.6,1172.1 721.1,1174.3 723.6,1176.4 726.1,1178.5 728.5,1180.6 731.0,1182.5 733.5,1184.5 736.0,1186.3 738.5,1188.0 740.9,1189.7 743.4,1191.2 745.9,1192.6 748.4,1194.0 750.8,1195.4 753.3,1196.8 755.8,1198.1 758.3,1199.4 760.7,1200.6 763.2,1201.7 765.7,1202.7 768.2,1203.6 770.6,1204.5 773.1,1205.3 775.6,1206.1 778.1,1206.9 780.5,1207.6 783.0,1208.3 785.5,1208.9 788.0,1209.5 790.4,1210.1 792.9,1210.7 795.4,1211.2 797.9,1211.8 800.4,1212.3 802.8,1212.8 805.3,1213.2 807.8,1213.6 810.3,1214.0 812.7,1214.4 815.2,1214.8 817.7,1215.1 820.2,1215.5 822.6,1215.8 825.1,1216.1 827.6,1216.4 830.1,1216.7 832.5,1216.9 835.0,1217.2 837.5,1217.4 840.0,1217.6 842.4,1217.7 844.9,1217.9 847.4,1218.0 849.9,1218.2 852.3,1218.3 854.8,1218.4 857.3,1218.5 859.8,1218.6 862.3,1218.7 864.7,1218.8 867.2,1218.9 869.7,1219.0 872.2,1219.1 874.6,1219.1 877.1,1219.2 879.6,1219.3 882.1,1219.3 884.5,1219.3 887.0,1219.4 889.5,1219.4 892.0,1219.5 894.4,1219.5 896.9,1219.5 899.4,1219.6 901.9,1219.6 904.3,1219.6 906.8,1219.7 909.3,1219.7 911.8,1219.7 914.2,1219.7 916.7,1219.8 919.2,1219.8 921.7,1219.8 924.2,1219.9 926.6,1219.9 929.1,1219.9 931.6,1219.9 934.1,1220.0 936.5,1220.0 939.0,1220.0 941.5,1220.0 944.0,1220.1 946.4,1220.1 948.9,1220.1 951.4,1220.1 953.9,1220.1 956.3,1220.2 958.8,1220.2 961.3,1220.2 963.8,1220.2 966.2,1220.2 968.7,1220.2 971.2,1220.3 973.7,1220.3 976.1,1220.3 978.6,1220.3 981.1,1220.3" stroke="#b23535"/>
<polyline points="238.3,918.3 240.8,936.9 243.3,950.1 245.7,962.0 248.2,973.3 250.7,983.3 253.2,992.1 255.6,1001.0 258.1,1009.3 260.6,1016.5 263.1,1022.4 265.5,1027.6 268.0,1032.3 270.5,1036.6 273.0,1040.8 275.4,1044.7 277.9,1048.4 280.4,1051.8 282.9,1055.3 285.3,1058.7 287.8,1062.0 290.3,1065.4 292.8,1068.8 295.2,1072.1 297.7,1075.4 300.2,1078.7 302.7,1081.9 305.2,1085.2 307.6,1088.4 310.1,1091.6 312.6,1094.8 315.1,1097.9 317.5,1101.1 320.0,1104.3 322.5,1107.5 325.0,1110.7 327.4,1113.8 329.9,1116.8 332.4,1119.8 334.9,1122.6 337.3,1125.3 339.8,1127.9 342.3,1130.4 344.8,1132.8 347.2,1135.0 349.7,1137.2 352.2,1139.2 354.7,1141.1 357.1,1143.0 359.6,1144.9 362.1,1146.8 364.6,1148.6 367.1,1150.1 369.5,1151.5 372.0,1152.8 374.5,1154.0 377.0,1155.1 379.4,1156.0 381.9,1156.8 384.4,1157.4 386.9,1158.0 389.3,1158.5 391.8,1158.8 394.3,1159.1 396.8,1159.3 399.2,1159.4 401.7,1159.3 404.2,1159.2 406.7,1159.0 409.1,1158.7 411.6,1158.3 414.1,1157.9 416.6,1157.5 419.0,1157.0 421.5,1156.6 424.0,1156.1 426.5,1155.6 429.0,1154.9 431.4,1154.2 433.9,1153.4 436.4,1152.5 438.9,1151.6 441.3,1150.7 443.8,1149.7 446.3,1148.6 448.8,1147.4 451.2,1146.1 453.7,1144.6 456.2,1142.7 458.7,1140.6 461.1,1138.2 463.6,1135.7 466.1,1133.0 468.6,1130.3 471.0,1127.6 473.5,1124.8 476.0,1121.8 478.5,1118.7 480.9,1115.6 483.4,1112.3 485.9,1109.0 488.4,1105.6 490.9,1102.3 493.3,1098.9 495.8,1095.5 498.3,1092.0 500.8,1088.4 503.2,1084.5 505.7,1080.5 508.2,1076.2 510.7,1071.5 513.1,1066.4 515.6,1061.0 518.1,1055.5 520.6,1049.9 523.0,1044.4 525.5,1039.0 528.0,1033.7 530.5,1028.4 532.9,1023.2 535.4,1017.9 537.9,1012.6 540.4,1007.2 542.8,1001.8 545.3,996.4 547.8,990.8 550.3,985.3 552.8,979.7 555.2,974.1 557.7,968.5 560.2,963.0 562.7,957.5 565.1,952.0 567.6,946.5 570.1,940.9 572.6,935.5 575.0,930.1 577.5,924.8 580.0,919.7 582.5,914.7 584.9,909.9 587.4,905.2 589.9,900.6 592.4,896.2 594.8,891.9 597.3,887.8 599.8,883.7 602.3,879.6 604.7,875.6 607.2,872.6 609.7,870.2 612.2,868.4 614.7,867.8 617.1,869.0 619.6,871.3 622.1,874.9 624.6,880.3 627.0,887.0 629.5,895.4 632.0,904.7 634.5,913.9 636.9,923.2 639.4,932.8 641.9,942.5 644.4,952.3 646.8,962.2 649.3,972.4 651.8,982.9 654.3,993.4 656.7,1003.8 659.2,1013.9 661.7,1023.5 664.2,1032.6 666.6,1041.4 669.1,1049.9 671.6,1058.2 674.1,1066.3 676.6,1074.1 679.0,1081.5 681.5,1088.7 684.0,1095.8 686.5,1102.5 688.9,1109.0 691.4,1115.0 693.9,1120.5 696.4,1125.6 698.8,1130.4 701.3,1134.9 703.8,1139.2 706.3,1143.4 708.7,1147.3 711.2,1151.0 713.7,1154.4 716.2,1157.6 718.6,1160.6 721.1,1163.4 723.6,1166.1 726.1,1168.7 728.5,1171.3 731.0,1173.7 733.5,1176.1 736.0,1178.5 738.5,1180.7 740.9,1182.9 743.4,1184.9 745.9,1186.8 748.4,1188.7 750.8,1190.5 753.3,1192.3 755.8,1194.0 758.3,1195.7 760.7,1197.2 763.2,1198.6 765.7,1199.9 768.2,1201.2 770.6,1202.4 773.1,1203.5 775.6,1204.5 778.1,1205.5 780.5,1206.5 783.0,1207.4 785.5,1208.3 788.0,1209.1 790.4,1209.9 792.9,1210.7 795.4,1211.5 797.9,1212.2 800.4,1212.9 802.8,1213.5 805.3,1214.2 807.8,1214.8 810.3,1215.3 812.7,1215.9 815.2,1216.4 817.7,1217.0 820.2,1217.5 822.6,1218.0 825.1,1218.5 827.6,1218.9 830.1,1219.3 832.5,1219.7 835.0,1220.0 837.5,1220.3 840.0,1220.5 842.4,1220.7 844.9,1220.9 847.4,1221.1 849.9,1221.2 852.3,1221.4 854.8,1221.6 857.3,1221.7 859.8,1221.8 862.3,1222.0 864.7,1222.1 867.2,1222.2 869.7,1222.3 872.2,1222.4 874.6,1222.5 877.1,1222.6 879.6,1222.6 882.1,1222.7 884.5,1222.7 887.0,1222.8 889.5,1222.8 892.0,1222.9 894.4,1222.9 896.9,1222.9 899.4,1223.0 901.9,1223.0 904.3,1223.1 906.8,1223.1 909.3,1223.1 911.8,1223.2 914.2,1223.2 916.7,1223.2 919.2,1223.3 921.7,1223.3 924.2,1223.3 926.6,1223.4 929.1,1223.4 931.6,1223.4 934.1,1223.5 936.5,1223.5 939.0,1223.5 941.5,1223.5 944.0,1223.6 946.4,1223.6 948.9,1223.6 951.4,1223.6 953.9,1223.7 956.3,1223.7 958.8,1223.7 961.3,1223.7 963.8,1223.7 966.2,1223.7 968.7,1223.8 971.2,1223.8 973.7,1223.8 976.1,1223.8 978.6,1223.8 981.1,1223.8" stroke="#ff22ff"/>
<polyline points="238.3,928.3 240.8,945.6 243.3,957.6 245.7,968.2 248.2,978.3 250.7,987.0 253.2,994.6 255.6,1003.6 258.1,1011.9 260.6,1019.2 263.1,1025.1 265.5,1030.3 268.0,1035.1 270.5,1039.5 273.0,1043.8 275.4,1047.8 277.9,1051.5 280.4,1055.1 282.9,1058.6 285.3,1062.1 287.8,1065.4 290.3,1068.6 292.8,1071.7 295.2,1074.9 297.7,1077.9 300.2,1081.0 302.7,1084.1 305.2,1087.1 307.6,1090.1 310.1,1093.1 312.6,1096.0 315.1,1099.0 317.5,1102.0 320.0,1105.0 322.5,1108.0 325.0,1110.9 327.4,1113.8 329.9,1116.7 332.4,1119.4 334.9,1122.0 337.3,1124.5 339.8,1126.9 342.3,1129.2 344.8,1131.3 347.2,1133.3 349.7,1135.2 352.2,1137.1 354.7,1138.9 357.1,1140.8 359.6,1142.6 362.1,1144.3 364.6,1146.0 367.1,1147.4 369.5,1148.6 372.0,1149.7 374.5,1150.7 377.0,1151.6 379.4,1152.3 381.9,1152.9 384.4,1153.3 386.9,1153.6 389.3,1153.8 391.8,1153.9 394.3,1153.9 396.8,1153.8 399.2,1153.6 401.7,1153.3 404.2,1152.8 406.7,1152.2 409.1,1151.6 411.6,1150.8 414.1,1150.1 416.6,1149.3 419.0,1148.5 421.5,1147.7 424.0,1146.9 426.5,1146.0 429.0,1145.1 431.4,1144.0 433.9,1142.8 436.4,1141.6 438.9,1140.3 441.3,1139.0 443.8,1137.7 446.3,1136.2 448.8,1134.6 451.2,1132.9 453.7,1130.9 456.2,1128.5 458.7,1125.8 461.1,1122.9 463.6,1119.7 466.1,1116.4 468.6,1113.0 471.0,1109.7 473.5,1106.2 476.0,1102.6 478.5,1098.8 480.9,1094.8 483.4,1090.8 485.9,1086.7 488.4,1082.6 490.9,1078.4 493.3,1074.3 495.8,1070.1 498.3,1065.8 500.8,1061.3 503.2,1056.6 505.7,1051.6 508.2,1046.2 510.7,1040.3 513.1,1034.0 515.6,1027.3 518.1,1020.4 520.6,1013.4 523.0,1006.5 525.5,999.8 528.0,993.2 530.5,986.6 532.9,980.1 535.4,973.5 537.9,966.9 540.4,960.2 542.8,953.4 545.3,946.6 547.8,939.7 550.3,932.7 552.8,925.6 555.2,918.6 557.7,911.6 560.2,904.8 562.7,897.9 565.1,891.0 567.6,884.1 570.1,877.2 572.6,870.3 575.0,863.6 577.5,857.0 580.0,850.6 582.5,844.4 584.9,838.4 587.4,832.5 589.9,826.9 592.4,821.4 594.8,816.0 597.3,810.9 599.8,805.8 602.3,800.6 604.7,795.6 607.2,791.8 609.7,788.8 612.2,786.5 614.7,785.7 617.1,787.2 619.6,790.1 622.1,794.5 624.6,801.2 627.0,809.4 629.5,819.9 632.0,831.5 634.5,843.0 636.9,854.5 639.4,866.5 641.9,878.6 644.4,890.8 646.8,903.1 649.3,915.9 651.8,928.9 654.3,941.9 656.7,954.8 659.2,967.2 661.7,979.1 664.2,990.2 666.6,1000.9 669.1,1011.3 671.6,1021.4 674.1,1031.2 676.6,1040.7 679.0,1049.7 681.5,1058.5 684.0,1067.1 686.5,1075.4 688.9,1083.4 691.4,1090.8 693.9,1097.6 696.4,1103.9 698.8,1109.7 701.3,1115.3 703.8,1120.7 706.3,1125.7 708.7,1130.6 711.2,1135.1 713.7,1139.4 716.2,1143.3 718.6,1147.0 721.1,1150.6 723.6,1153.9 726.1,1157.2 728.5,1160.4 731.0,1163.4 733.5,1166.3 736.0,1169.1 738.5,1171.8 740.9,1174.3 743.4,1176.7 745.9,1179.0 748.4,1181.2 750.8,1183.3 753.3,1185.4 755.8,1187.3 758.3,1189.2 760.7,1190.9 763.2,1192.5 765.7,1194.0 768.2,1195.4 770.6,1196.7 773.1,1197.9 775.6,1199.1 778.1,1200.2 780.5,1201.2 783.0,1202.2 785.5,1203.1 788.0,1204.0 790.4,1204.8 792.9,1205.7 795.4,1206.5 797.9,1207.2 800.4,1207.9 802.8,1208.6 805.3,1209.2 807.8,1209.8 810.3,1210.4 812.7,1210.9 815.2,1211.5 817.7,1212.0 820.2,1212.5 822.6,1213.0 825.1,1213.4 827.6,1213.9 830.1,1214.3 832.5,1214.6 835.0,1215.0 837.5,1215.3 840.0,1215.6 842.4,1215.8 844.9,1216.1 847.4,1216.3 849.9,1216.5 852.3,1216.7 854.8,1216.9 857.3,1217.0 859.8,1217.2 862.3,1217.4 864.7,1217.5 867.2,1217.7 869.7,1217.8 872.2,1217.9 874.6,1218.0 877.1,1218.1 879.6,1218.2 882.1,1218.2 884.5,1218.3 887.0,1218.3 889.5,1218.4 892.0,1218.4 894.4,1218.5 896.9,1218.5 899.4,1218.6 901.9,1218.6 904.3,1218.7 906.8,1218.7 909.3,1218.8 911.8,1218.8 914.2,1218.8 916.7,1218.9 919.2,1218.9 921.7,1219.0 924.2,1219.0 926.6,1219.0 929.1,1219.1 931.6,1219.1 934.1,1219.1 936.5,1219.2 939.0,1219.2 941.5,1219.2 944.0,1219.3 946.4,1219.3 948.9,1219.3 951.4,1219.3 953.9,1219.4 956.3,1219.4 958.8,1219.4 961.3,1219.4 963.8,1219.4 966.2,1219.5 968.7,1219.5 971.2,1219.5 973.7,1219.5 976.1,1219.5 978.6,1219.5 981.1,1219.5" stroke="#00ffff"/>
<polyline points="238.3,915.0 240.8,934.4 243.3,948.5 245.7,961.4 248.2,973.6 250.7,984.5 253.2,994.2 255.6,1003.2 258.1,1011.5 260.6,1018.8 263.1,1024.7 265.5,1030.0 268.0,1034.7 270.5,1039.2 273.0,1043.5 275.4,1047.5 277.9,1051.2 280.4,1054.8 282.9,1058.3 285.3,1061.8 287.8,1065.1 290.3,1068.3 292.8,1071.4 295.2,1074.6 297.7,1077.7 300.2,1080.7 302.7,1083.8 305.2,1086.8 307.6,1089.8 310.1,1092.8 312.6,1095.8 315.1,1098.7 317.5,1101.7 320.0,1104.7 322.5,1107.7 325.0,1110.7 327.4,1113.6 329.9,1116.4 332.4,1119.1 334.9,1121.8 337.3,1124.3 339.8,1126.7 342.3,1128.9 344.8,1131.0 347.2,1133.0 349.7,1134.9 352.2,1136.8 354.7,1138.6 357.1,1140.4 359.6,1142.2 362.1,1144.0 364.6,1145.6 367.1,1147.0 369.5,1148.2 372.0,1149.3 374.5,1150.2 377.0,1151.1 379.4,1151.7 381.9,1152.3 384.4,1152.7 386.9,1152.9 389.3,1153.1 391.8,1153.2 394.3,1153.1 396.8,1153.0 399.2,1152.7 401.7,1152.3 404.2,1151.8 406.7,1151.2 409.1,1150.5 411.6,1149.7 414.1,1148.8 416.6,1148.0 419.0,1147.1 421.5,1146.3 424.0,1145.4 426.5,1144.5 429.0,1143.5 431.4,1142.4 433.9,1141.2 436.4,1139.9 438.9,1138.6 441.3,1137.2 443.8,1135.8 446.3,1134.3 448.8,1132.6 451.2,1130.8 453.7,1128.7 456.2,1126.3 458.7,1123.5 461.1,1120.5 463.6,1117.2 466.1,1113.8 468.6,1110.4 471.0,1106.9 473.5,1103.3 476.0,1099.6 478.5,1095.7 480.9,1091.6 483.4,1087.5 485.9,1083.2 488.4,1079.0 490.9,1074.7 493.3,1070.5 495.8,1066.1 498.3,1061.7 500.8,1057.0 503.2,1052.2 505.7,1047.1 508.2,1041.5 510.7,1035.5 513.1,1028.9 515.6,1022.0 518.1,1014.9 520.6,1007.7 523.0,1000.6 525.5,993.7 528.0,986.9 530.5,980.1 532.9,973.3 535.4,966.6 537.9,959.7 540.4,952.9 542.8,945.9 545.3,938.9 547.8,931.7 550.3,924.5 552.8,917.2 555.2,910.0 557.7,902.8 560.2,895.7 562.7,888.6 565.1,881.5 567.6,874.3 570.1,867.2 572.6,860.2 575.0,853.2 577.5,846.4 580.0,839.8 582.5,833.4 584.9,827.2 587.4,821.2 589.9,815.4 592.4,809.7 594.8,804.2 597.3,798.9 599.8,793.7 602.3,788.3 604.7,783.2 607.2,779.2 609.7,776.1 612.2,773.7 614.7,773.0 617.1,774.5 619.6,777.4 622.1,782.0 624.6,788.9 627.0,797.4 629.5,808.1 632.0,820.1 634.5,831.9 636.9,843.9 639.4,856.1 641.9,868.6 644.4,881.2 646.8,893.9 649.3,907.1 651.8,920.5 654.3,933.9 656.7,947.1 659.2,960.0 661.7,972.2 664.2,983.6 666.6,994.6 669.1,1005.3 671.6,1015.7 674.1,1025.7 676.6,1035.5 679.0,1044.8 681.5,1053.8 684.0,1062.7 686.5,1071.2 688.9,1079.4 691.4,1087.0 693.9,1094.1 696.4,1100.5 698.8,1106.5 701.3,1112.3 703.8,1117.8 706.3,1123.0 708.7,1128.0 711.2,1132.6 713.7,1137.0 716.2,1141.1 718.6,1144.9 721.1,1148.6 723.6,1152.1 726.1,1155.4 728.5,1158.7 731.0,1161.8 733.5,1164.8 736.0,1167.7 738.5,1170.4 740.9,1173.0 743.4,1175.5 745.9,1177.8 748.4,1180.1 750.8,1182.3 753.3,1184.4 755.8,1186.4 758.3,1188.3 760.7,1190.1 763.2,1191.7 765.7,1193.2 768.2,1194.7 770.6,1196.0 773.1,1197.3 775.6,1198.5 778.1,1199.6 780.5,1200.7 783.0,1201.7 785.5,1202.6 788.0,1203.5 790.4,1204.4 792.9,1205.2 795.4,1206.1 797.9,1206.8 800.4,1207.6 802.8,1208.2 805.3,1208.9 807.8,1209.5 810.3,1210.1 812.7,1210.6 815.2,1211.2 817.7,1211.7 820.2,1212.2 822.6,1212.7 825.1,1213.2 827.6,1213.6 830.1,1214.1 832.5,1214.4 835.0,1214.8 837.5,1215.1 840.0,1215.4 842.4,1215.7 844.9,1215.9 847.4,1216.1 849.9,1216.3 852.3,1216.5 854.8,1216.7 857.3,1216.9 859.8,1217.1 862.3,1217.3 864.7,1217.4 867.2,1217.6 869.7,1217.7 872.2,1217.8 874.6,1217.9 877.1,1218.0 879.6,1218.1 882.1,1218.2 884.5,1218.2 887.0,1218.3 889.5,1218.3 892.0,1218.4 894.4,1218.4 896.9,1218.5 899.4,1218.5 901.9,1218.6 904.3,1218.6 906.8,1218.6 909.3,1218.7 911.8,1218.7 914.2,1218.8 916.7,1218.8 919.2,1218.9 921.7,1218.9 924.2,1218.9 926.6,1219.0 929.1,1219.0 931.6,1219.0 934.1,1219.1 936.5,1219.1 939.0,1219.1 941.5,1219.2 944.0,1219.2 946.4,1219.2 948.9,1219.2 951.4,1219.3 953.9,1219.3 956.3,1219.3 958.8,1219.3 961.3,1219.4 963.8,1219.4 966.2,1219.4 968.7,1219.4 971.2,1219.4 973.7,1219.4 976.1,1219.5 978.6,1219.5 981.1,1219.5" stroke="#10a0a0"/>
<polyline points="238.3,914.4 240.8,933.9 243.3,948.0 245.7,960.8 248.2,973.0 250.7,983.9 253.2,993.6 255.6,1002.6 258.1,1011.0 260.6,1018.3 263.1,1024.2 265.5,1029.5 268.0,1034.2 270.5,1038.7 273.0,1043.0 275.4,1047.0 277.9,1050.8 280.4,1054.4 282.9,1057.9 285.3,1061.4 287.8,1064.7 290.3,1067.9 292.8,1071.1 295.2,1074.2 297.7,1077.3 300.2,1080.4 302.7,1083.4 305.2,1086.4 307.6,1089.4 310.1,1092.4 312.6,1095.4 315.1,1098.4 317.5,1101.3 320.0,1104.3 322.5,1107.3 325.0,1110.3 327.4,1113.2 329.9,1116.0 332.4,1118.8 334.9,1121.4 337.3,1123.9 339.8,1126.3 342.3,1128.5 344.8,1130.6 347.2,1132.6 349.7,1134.5 352.2,1136.3 354.7,1138.1 357.1,1139.9 359.6,1141.7 362.1,1143.4 364.6,1145.0 367.1,1146.4 369.5,1147.6 372.0,1148.6 374.5,1149.5 377.0,1150.3 379.4,1151.0 381.9,1151.4 384.4,1151.8 386.9,1152.0 389.3,1152.2 391.8,1152.2 394.3,1152.1 396.8,1151.9 399.2,1151.5 401.7,1151.1 404.2,1150.5 406.7,1149.8 409.1,1149.0 411.6,1148.1 414.1,1147.2 416.6,1146.3 419.0,1145.4 421.5,1144.5 424.0,1143.5 426.5,1142.5 429.0,1141.5 431.4,1140.3 433.9,1139.0 436.4,1137.6 438.9,1136.2 441.3,1134.8 443.8,1133.3 446.3,1131.7 448.8,1130.0 451.2,1128.1 453.7,1125.9 456.2,1123.4 458.7,1120.5 461.1,1117.3 463.6,1113.9 466.1,1110.4 468.6,1106.8 471.0,1103.2 473.5,1099.5 476.0,1095.6 478.5,1091.5 480.9,1087.3 483.4,1083.0 485.9,1078.6 488.4,1074.2 490.9,1069.8 493.3,1065.3 495.8,1060.8 498.3,1056.2 500.8,1051.4 503.2,1046.4 505.7,1041.1 508.2,1035.3 510.7,1029.0 513.1,1022.2 515.6,1015.0 518.1,1007.6 520.6,1000.1 523.0,992.7 525.5,985.5 528.0,978.5 530.5,971.4 532.9,964.4 535.4,957.3 537.9,950.2 540.4,943.1 542.8,935.9 545.3,928.5 547.8,921.1 550.3,913.6 552.8,906.0 555.2,898.5 557.7,891.0 560.2,883.6 562.7,876.2 565.1,868.8 567.6,861.4 570.1,854.0 572.6,846.7 575.0,839.4 577.5,832.4 580.0,825.5 582.5,818.8 584.9,812.4 587.4,806.1 589.9,800.1 592.4,794.2 594.8,788.5 597.3,782.9 599.8,777.5 602.3,771.9 604.7,766.5 607.2,762.4 609.7,759.2 612.2,756.7 614.7,755.9 617.1,757.5 619.6,760.6 622.1,765.4 624.6,772.5 627.0,781.3 629.5,792.5 632.0,804.9 634.5,817.2 636.9,829.6 639.4,842.4 641.9,855.4 644.4,868.4 646.8,881.6 649.3,895.3 651.8,909.3 654.3,923.2 656.7,937.0 659.2,950.3 661.7,962.9 664.2,974.8 666.6,986.2 669.1,997.3 671.6,1008.0 674.1,1018.5 676.6,1028.5 679.0,1038.2 681.5,1047.6 684.0,1056.7 686.5,1065.6 688.9,1074.1 691.4,1082.0 693.9,1089.3 696.4,1096.0 698.8,1102.2 701.3,1108.2 703.8,1113.9 706.3,1119.3 708.7,1124.5 711.2,1129.3 713.7,1133.9 716.2,1138.1 718.6,1142.1 721.1,1145.9 723.6,1149.5 726.1,1153.0 728.5,1156.4 731.0,1159.6 733.5,1162.7 736.0,1165.7 738.5,1168.6 740.9,1171.3 743.4,1173.9 745.9,1176.3 748.4,1178.6 750.8,1180.9 753.3,1183.1 755.8,1185.2 758.3,1187.2 760.7,1189.0 763.2,1190.7 765.7,1192.3 768.2,1193.7 770.6,1195.1 773.1,1196.4 775.6,1197.7 778.1,1198.8 780.5,1199.9 783.0,1201.0 785.5,1202.0 788.0,1202.9 790.4,1203.8 792.9,1204.7 795.4,1205.5 797.9,1206.3 800.4,1207.1 802.8,1207.8 805.3,1208.5 807.8,1209.1 810.3,1209.7 812.7,1210.3 815.2,1210.8 817.7,1211.4 820.2,1211.9 822.6,1212.4 825.1,1212.9 827.6,1213.3 830.1,1213.8 832.5,1214.2 835.0,1214.5 837.5,1214.9 840.0,1215.2 842.4,1215.5 844.9,1215.7 847.4,1215.9 849.9,1216.1 852.3,1216.4 854.8,1216.6 857.3,1216.7 859.8,1216.9 862.3,1217.1 864.7,1217.3 867.2,1217.4 869.7,1217.6 872.2,1217.7 874.6,1217.8 877.1,1217.9 879.6,1218.0 882.1,1218.0 884.5,1218.1 887.0,1218.1 889.5,1218.2 892.0,1218.2 894.4,1218.3 896.9,1218.4 899.4,1218.4 901.9,1218.4 904.3,1218.5 906.8,1218.5 909.3,1218.6 911.8,1218.6 914.2,1218.7 916.7,1218.7 919.2,1218.8 921.7,1218.8 924.2,1218.8 926.6,1218.9 929.1,1218.9 931.6,1218.9 934.1,1219.0 936.5,1219.0 939.0,1219.0 941.5,1219.1 944.0,1219.1 946.4,1219.1 948.9,1219.2 951.4,1219.2 953.9,1219.2 956.3,1219.2 958.8,1219.3 961.3,1219.3 963.8,1219.3 966.2,1219.3 968.7,1219.3 971.2,1219.3 973.7,1219.4 976.1,1219.4 978.6,1219.4 981.1,1219.4" stroke="#ff2a2a"/>
<polyline points="238.3,914.1 240.8,933.5 243.3,947.7 245.7,960.5 248.2,972.8 250.7,983.6 253.2,993.4 255.6,1002.3 258.1,1010.7 260.6,1018.0 263.1,1024.0 265.5,1029.2 268.0,1034.0 270.5,1038.5 273.0,1042.8 275.4,1046.8 277.9,1050.6 280.4,1054.2 282.9,1057.7 285.3,1061.2 287.8,1064.5 290.3,1067.7 292.8,1070.9 295.2,1074.0 297.7,1077.1 300.2,1080.2 302.7,1083.2 305.2,1086.2 307.6,1089.2 310.1,1092.2 312.6,1095.2 315.1,1098.2 317.5,1101.1 320.0,1104.1 322.5,1107.1 325.0,1110.1 327.4,1113.0 329.9,1115.8 332.4,1118.6 334.9,1121.2 337.3,1123.7 339.8,1126.1 342.3,1128.3 344.8,1130.4 347.2,1132.4 349.7,1134.3 352.2,1136.1 354.7,1137.9 357.1,1139.7 359.6,1141.5 362.1,1143.2 364.6,1144.8 367.1,1146.1 369.5,1147.3 372.0,1148.3 374.5,1149.2 377.0,1149.9 379.4,1150.6 381.9,1151.0 384.4,1151.4 386.9,1151.6 389.3,1151.7 391.8,1151.6 394.3,1151.5 396.8,1151.3 399.2,1150.9 401.7,1150.4 404.2,1149.8 406.7,1149.0 409.1,1148.2 411.6,1147.3 414.1,1146.4 416.6,1145.4 419.0,1144.4 421.5,1143.5 424.0,1142.5 426.5,1141.5 429.0,1140.4 431.4,1139.2 433.9,1137.8 436.4,1136.4 438.9,1135.0 441.3,1133.5 443.8,1132.0 446.3,1130.4 448.8,1128.6 451.2,1126.6 453.7,1124.4 456.2,1121.8 458.7,1118.9 461.1,1115.6 463.6,1112.2 466.1,1108.6 468.6,1104.9 471.0,1101.2 473.5,1097.5 476.0,1093.5 478.5,1089.3 480.9,1085.1 483.4,1080.7 485.9,1076.2 488.4,1071.7 490.9,1067.2 493.3,1062.7 495.8,1058.1 498.3,1053.4 500.8,1048.5 503.2,1043.3 505.7,1037.9 508.2,1032.1 510.7,1025.6 513.1,1018.7 515.6,1011.3 518.1,1003.8 520.6,996.2 523.0,988.6 525.5,981.3 528.0,974.1 530.5,966.9 532.9,959.7 535.4,952.5 537.9,945.3 540.4,938.0 542.8,930.6 545.3,923.1 547.8,915.5 550.3,907.8 552.8,900.1 555.2,892.5 557.7,884.8 560.2,877.3 562.7,869.8 565.1,862.2 567.6,854.6 570.1,847.1 572.6,839.6 575.0,832.2 577.5,825.0 580.0,818.0 582.5,811.2 584.9,804.6 587.4,798.2 589.9,792.1 592.4,786.1 594.8,780.2 597.3,774.6 599.8,769.0 602.3,763.3 604.7,757.9 607.2,753.7 609.7,750.4 612.2,747.8 614.7,747.0 617.1,748.7 619.6,751.8 622.1,756.6 624.6,763.9 627.0,772.9 629.5,784.3 632.0,796.9 634.5,809.5 636.9,822.2 639.4,835.2 641.9,848.4 644.4,861.8 646.8,875.2 649.3,889.2 651.8,903.4 654.3,917.6 656.7,931.7 659.2,945.3 661.7,958.1 664.2,970.2 666.6,981.8 669.1,993.1 671.6,1004.0 674.1,1014.7 676.6,1024.9 679.0,1034.7 681.5,1044.3 684.0,1053.6 686.5,1062.7 688.9,1071.3 691.4,1079.4 693.9,1086.8 696.4,1093.6 698.8,1100.0 701.3,1106.1 703.8,1111.9 706.3,1117.4 708.7,1122.7 711.2,1127.6 713.7,1132.3 716.2,1136.6 718.6,1140.7 721.1,1144.5 723.6,1148.2 726.1,1151.8 728.5,1155.2 731.0,1158.5 733.5,1161.7 736.0,1164.7 738.5,1167.6 740.9,1170.4 743.4,1173.0 745.9,1175.5 748.4,1177.9 750.8,1180.2 753.3,1182.5 755.8,1184.6 758.3,1186.6 760.7,1188.4 763.2,1190.2 765.7,1191.8 768.2,1193.3 770.6,1194.7 773.1,1196.0 775.6,1197.3 778.1,1198.5 780.5,1199.6 783.0,1200.6 785.5,1201.6 788.0,1202.6 790.4,1203.5 792.9,1204.4 795.4,1205.2 797.9,1206.0 800.4,1206.8 802.8,1207.5 805.3,1208.2 807.8,1208.9 810.3,1209.5 812.7,1210.1 815.2,1210.6 817.7,1211.2 820.2,1211.7 822.6,1212.2 825.1,1212.7 827.6,1213.2 830.1,1213.6 832.5,1214.0 835.0,1214.4 837.5,1214.7 840.0,1215.1 842.4,1215.3 844.9,1215.6 847.4,1215.8 849.9,1216.0 852.3,1216.3 854.8,1216.5 857.3,1216.7 859.8,1216.8 862.3,1217.0 864.7,1217.2 867.2,1217.3 869.7,1217.5 872.2,1217.6 874.6,1217.7 877.1,1217.8 879.6,1217.9 882.1,1218.0 884.5,1218.0 887.0,1218.1 889.5,1218.1 892.0,1218.2 894.4,1218.2 896.9,1218.3 899.4,1218.3 901.9,1218.4 904.3,1218.4 906.8,1218.5 909.3,1218.5 911.8,1218.6 914.2,1218.6 916.7,1218.7 919.2,1218.7 921.7,1218.7 924.2,1218.8 926.6,1218.8 929.1,1218.9 931.6,1218.9 934.1,1218.9 936.5,1219.0 939.0,1219.0 941.5,1219.0 944.0,1219.1 946.4,1219.1 948.9,1219.1 951.4,1219.1 953.9,1219.2 956.3,1219.2 958.8,1219.2 961.3,1219.2 963.8,1219.3 966.2,1219.3 968.7,1219.3 971.2,1219.3 973.7,1219.3 976.1,1219.3 978.6,1219.3 981.1,1219.4" stroke="#232390"/>
</g>
<path d="M238.3,716.7 H981.1 V1254.4 H238.3 Z" fill="none" stroke="#2a2a2a" stroke-width="3"/>
<path d="M238.3,716.7 H981.1" stroke="#000" stroke-width="3.6"/>
<path d="M219.8,1254.4 H238.3" stroke="#222" stroke-width="3"/>
<text x="201" y="1269.9" font-size="43" text-anchor="end" fill="#1a1a1a">0.0</text>
<path d="M219.8,1168.4 H238.3" stroke="#222" stroke-width="3"/>
<text x="201" y="1183.9" font-size="43" text-anchor="end" fill="#1a1a1a">0.2</text>
<path d="M219.8,1082.4 H238.3" stroke="#222" stroke-width="3"/>
<text x="201" y="1097.9" font-size="43" text-anchor="end" fill="#1a1a1a">0.4</text>
<path d="M219.8,996.4 H238.3" stroke="#222" stroke-width="3"/>
<text x="201" y="1011.9" font-size="43" text-anchor="end" fill="#1a1a1a">0.6</text>
<path d="M219.8,910.4 H238.3" stroke="#222" stroke-width="3"/>
<text x="201" y="925.9" font-size="43" text-anchor="end" fill="#1a1a1a">0.8</text>
<path d="M219.8,824.4 H238.3" stroke="#222" stroke-width="3"/>
<text x="201" y="839.9" font-size="43" text-anchor="end" fill="#1a1a1a">1.0</text>
<path d="M219.8,738.4 H238.3" stroke="#222" stroke-width="3"/>
<text x="201" y="753.9" font-size="43" text-anchor="end" fill="#1a1a1a">1.2</text>
<path d="M238.3,1254.4 V1271.4" stroke="#222" stroke-width="3"/>
<text x="238.3" y="1332" font-size="43" text-anchor="middle" fill="#1a1a1a">300</text>
<path d="M362.1,1254.4 V1271.4" stroke="#222" stroke-width="3"/>
<text x="362.1" y="1332" font-size="43" text-anchor="middle" fill="#1a1a1a">350</text>
<path d="M485.9,1254.4 V1271.4" stroke="#222" stroke-width="3"/>
<text x="485.9" y="1332" font-size="43" text-anchor="middle" fill="#1a1a1a">400</text>
<path d="M609.7,1254.4 V1271.4" stroke="#222" stroke-width="3"/>
<text x="609.7" y="1332" font-size="43" text-anchor="middle" fill="#1a1a1a">450</text>
<path d="M733.5,1254.4 V1271.4" stroke="#222" stroke-width="3"/>
<text x="733.5" y="1332" font-size="43" text-anchor="middle" fill="#1a1a1a">500</text>
<path d="M857.3,1254.4 V1271.4" stroke="#222" stroke-width="3"/>
<text x="857.3" y="1332" font-size="43" text-anchor="middle" fill="#1a1a1a">550</text>
<path d="M981.1,1254.4 V1271.4" stroke="#222" stroke-width="3"/>
<text x="981.1" y="1332" font-size="43" text-anchor="middle" fill="#1a1a1a">600</text>
<text x="608.5" y="1397" font-size="42.5" text-anchor="middle" fill="#1a1a1a">Wavelength / nm</text>
<text transform="translate(113.5,990.5) rotate(-90)" x="0" y="0" font-size="43" text-anchor="middle" fill="#1a1a1a">Absorbance</text>
<text x="828" y="786.4" font-size="38" fill="#1a1a1a">0</text>
<text x="828" y="828.2" font-size="38" fill="#1a1a1a">50</text>
<text x="828" y="870.0" font-size="38" fill="#1a1a1a">500</text>
<text x="828" y="911.8" font-size="38" fill="#1a1a1a">1000</text>
<text x="828" y="953.6" font-size="38" fill="#1a1a1a">3000</text>
<text x="828" y="995.4" font-size="38" fill="#1a1a1a">5000</text>
<text x="828" y="1037.2" font-size="38" fill="#1a1a1a">7000</text>
<text x="820.7" y="1085.2" font-size="42" fill="#1a1a1a">10<tspan>,</tspan><tspan dx="-3.2">000</tspan></text>
<path d="M801,752 V1104" stroke="#222" stroke-width="3"/>
<path d="M790.5,1069 L801,1107 L811.5,1069" fill="none" stroke="#222" stroke-width="2.6"/>
<path d="M796,1090 L801,1108 L806,1090 Z" fill="#222"/>
<text transform="translate(1088.7,743.5) scale(0.886,1)" font-size="84" fill="#000">(C)</text>
<path d="M1299.2,724.3 H2041.7 V1261.5 H1299.2 Z" fill="none" stroke="#2a2a2a" stroke-width="3"/>
<path d="M1299.2,724.3 H2041.7" stroke="#111" stroke-width="3.6"/>
<path d="M1281.2,1215.8 H1299.2" stroke="#222" stroke-width="3"/>
<text x="1261" y="1230.3" font-size="43" text-anchor="end" fill="#1a1a1a">0.0</text>
<path d="M1281.2,1126.5 H1299.2" stroke="#222" stroke-width="3"/>
<text x="1261" y="1141.0" font-size="43" text-anchor="end" fill="#1a1a1a">0.2</text>
<path d="M1281.2,1037.2 H1299.2" stroke="#222" stroke-width="3"/>
<text x="1261" y="1051.7" font-size="43" text-anchor="end" fill="#1a1a1a">0.4</text>
<path d="M1281.2,947.9 H1299.2" stroke="#222" stroke-width="3"/>
<text x="1261" y="962.4" font-size="43" text-anchor="end" fill="#1a1a1a">0.6</text>
<path d="M1281.2,858.6 H1299.2" stroke="#222" stroke-width="3"/>
<text x="1261" y="873.1" font-size="43" text-anchor="end" fill="#1a1a1a">0.8</text>
<path d="M1281.2,769.3 H1299.2" stroke="#222" stroke-width="3"/>
<text x="1261" y="783.8" font-size="43" text-anchor="end" fill="#1a1a1a">1.0</text>
<path d="M1361.0,1261.5 V1278.5" stroke="#222" stroke-width="3"/>
<text x="1361.0" y="1338.5" font-size="43" text-anchor="middle" fill="#1a1a1a">0</text>
<path d="M1484.8,1261.5 V1278.5" stroke="#222" stroke-width="3"/>
<text x="1484.8" y="1338.5" font-size="43" text-anchor="middle" fill="#1a1a1a">2000</text>
<path d="M1608.6,1261.5 V1278.5" stroke="#222" stroke-width="3"/>
<text x="1608.6" y="1338.5" font-size="43" text-anchor="middle" fill="#1a1a1a">4000</text>
<path d="M1732.4,1261.5 V1278.5" stroke="#222" stroke-width="3"/>
<text x="1732.4" y="1338.5" font-size="43" text-anchor="middle" fill="#1a1a1a">6000</text>
<path d="M1856.2,1261.5 V1278.5" stroke="#222" stroke-width="3"/>
<text x="1856.2" y="1338.5" font-size="43" text-anchor="middle" fill="#1a1a1a">8000</text>
<path d="M1980.0,1261.5 V1278.5" stroke="#222" stroke-width="3"/>
<text x="1924.4" y="1339" font-size="42" fill="#1a1a1a">10<tspan>,</tspan><tspan dx="-3.2">000</tspan></text>
<text x="1320" y="1409.5" font-size="42" fill="#1a1a1a">Concentration of <tspan font-style="italic">S.aureus</tspan> / CFU mL<tspan font-size="25" dy="-22">&#8722;1</tspan></text>
<text transform="translate(1161.2,992) rotate(-90)" font-size="42" text-anchor="middle" fill="#1a1a1a"><tspan font-style="italic">A</tspan><tspan font-size="28" dy="14">0</tspan><tspan dy="-14">-</tspan><tspan font-style="italic">A</tspan></text>
<path d="M1364.1,1208.5 L1980.0,812.0" stroke="#3030ff" stroke-width="3"/>
<path d="M1364.1,1200.2 V1214.5 M1356.3,1200.2 H1371.9 M1356.3,1214.5 H1371.9" stroke="#000" stroke-width="3.4" stroke-linecap="round"/>
<circle cx="1364.1" cy="1207.3" r="6.6" fill="#000"/>
<circle cx="1392.0" cy="1190.3" r="6.6" fill="#000"/>
<path d="M1422.9,1167.7 V1184.7 M1415.1,1167.7 H1430.7 M1415.1,1184.7 H1430.7" stroke="#000" stroke-width="3.4" stroke-linecap="round"/>
<circle cx="1422.9" cy="1176.2" r="6.6" fill="#000"/>
<path d="M1546.7,1087.3 V1109.9 M1538.9,1087.3 H1554.5 M1538.9,1109.9 H1554.5" stroke="#000" stroke-width="3.4" stroke-linecap="round"/>
<circle cx="1546.7" cy="1098.6" r="6.6" fill="#000"/>
<path d="M1670.5,1003.1 V1030.2 M1662.7,1003.1 H1678.3 M1662.7,1030.2 H1678.3" stroke="#000" stroke-width="3.4" stroke-linecap="round"/>
<circle cx="1670.5" cy="1016.7" r="6.6" fill="#000"/>
<path d="M1794.3,897.9 V929.1 M1786.5,897.9 H1802.1 M1786.5,929.1 H1802.1" stroke="#000" stroke-width="3.4" stroke-linecap="round"/>
<circle cx="1794.3" cy="913.5" r="6.6" fill="#000"/>
<path d="M1980.0,804.4 V821.8 M1972.2,804.4 H1987.8 M1972.2,821.8 H1987.8" stroke="#000" stroke-width="3.4" stroke-linecap="round"/>
<circle cx="1980.0" cy="813.1" r="6.6" fill="#000"/>
</svg></body></html>
